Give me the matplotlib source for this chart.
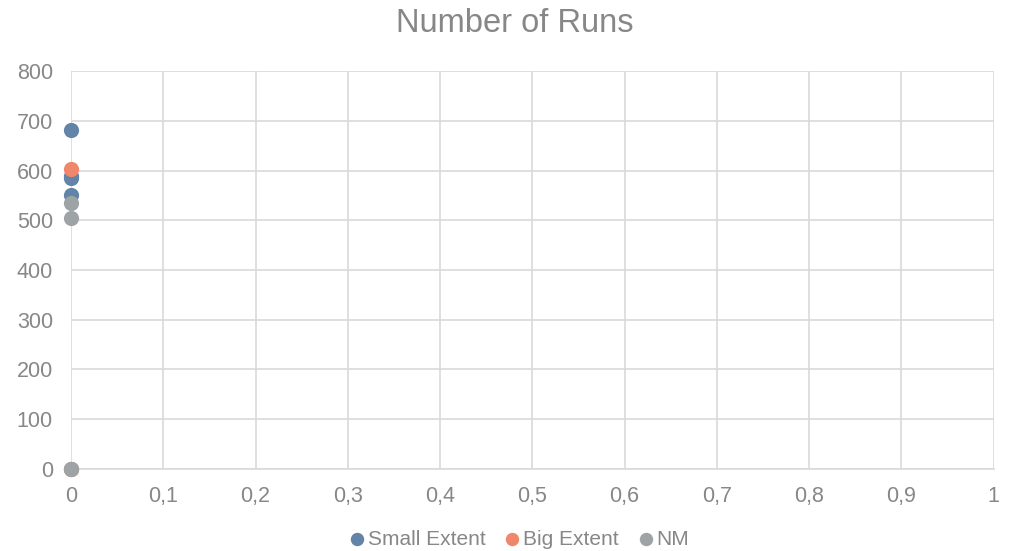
import numpy as np
import matplotlib.pyplot as plt
from matplotlib.ticker import FuncFormatter

# Data (all points sit at x = 0)
smallRuns = [681, 590, 584, 551, 0]
bigRuns = [604, 0]
nmRuns = [535, 505, 0]
seriesNames = ["Small Extent", "Big Extent", "NM"]
seriesColors = ["#6384a8", "#f0876c", "#9ea3a6"]

textColor = "#878787"
gridColor = "#d9d9d9"

plt.rcParams["font.family"] = ["Liberation Sans", "DejaVu Sans"]

fig = plt.figure(figsize=(10.16, 5.51), dpi=100)
ax = fig.add_axes([0.0699, 0.149, 0.9081, 0.722])

for runs, name, color in zip([smallRuns, bigRuns, nmRuns], seriesNames, seriesColors):
    ax.scatter(np.zeros(len(runs)), runs, s=120, color=color, label=name, zorder=3, linewidths=0,
               clip_on=False)

ax.set_xlim(0, 1)
ax.set_ylim(0, 800)
ax.set_xticks(np.linspace(0, 1, 11))
ax.set_yticks(np.arange(0, 801, 100))
ax.xaxis.set_major_formatter(FuncFormatter(lambda v, p: ("%g" % round(v, 1)).replace(".", ",")))
ax.grid(True, color=gridColor, linewidth=1.2, zorder=0)
ax.set_axisbelow(True)
for side in ["top", "right", "left"]:
    ax.spines[side].set_visible(False)
ax.spines["bottom"].set_color(gridColor)
ax.spines["bottom"].set_linewidth(1.2)
ax.tick_params(length=0, labelsize=15.5, colors=textColor)
ax.tick_params(axis="x", pad=12)
ax.tick_params(axis="y", pad=13)

ax.set_title("Number of Runs", fontsize=23.5, color=textColor, pad=28, x=0.481)

ax.legend(loc="center", bbox_to_anchor=(0.4786, -0.177), ncol=3, frameon=False,
          fontsize=15, labelcolor=textColor, handletextpad=-0.5, columnspacing=0.3,
          markerscale=0.88, borderpad=0.1)

fig.savefig("out.png", dpi=100)
